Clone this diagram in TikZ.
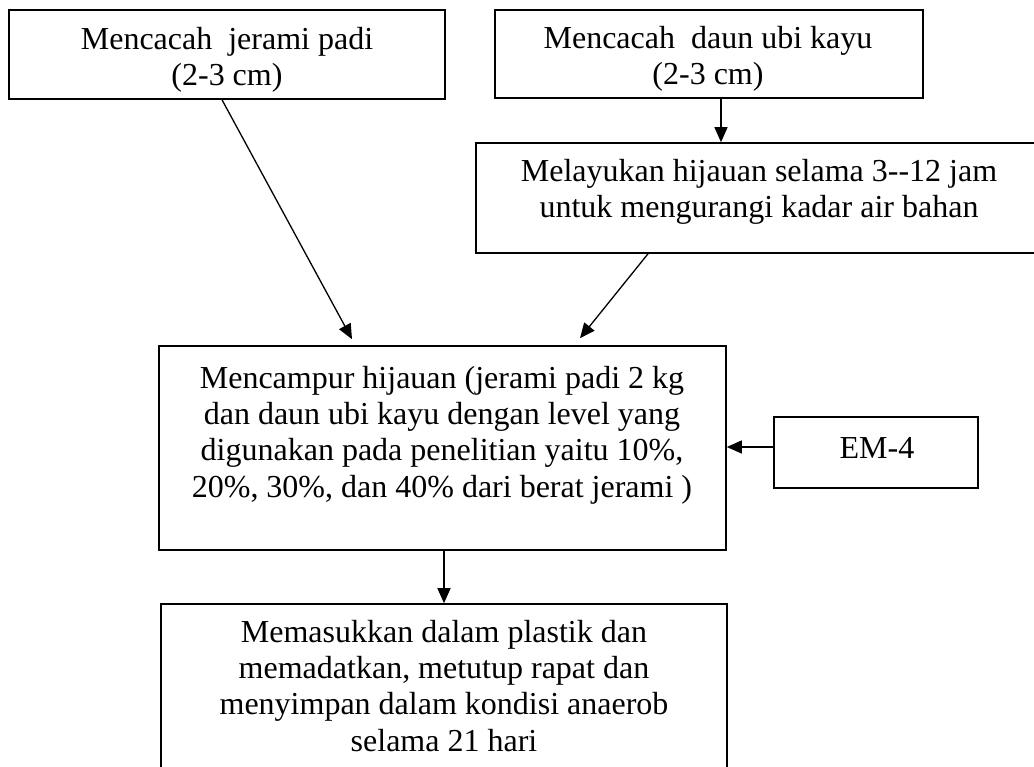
\documentclass[tikz,border=0pt]{standalone}
\usepackage{fontspec}
\setmainfont{Liberation Serif}
\usetikzlibrary{arrows.meta}
\tikzset{
  boxnode/.style={draw=black, line width=1.6pt, rectangle, inner sep=0pt},
  txt/.style={align=center, inner sep=0pt, anchor=base, font=\fontsize{32}{36.3}\selectfont},
  arr/.style={line width=1.3pt, -{Triangle[length=15pt,width=13pt]}}
}
\begin{document}
\begin{tikzpicture}[x=1pt,y=-1pt]
\useasboundingbox (0,0) rectangle (1034,767);
\fill[white] (0,0) rectangle (1034,767);
\clip (0,0) rectangle (1034,767);

% boxes
\node[boxnode, minimum width=436pt, minimum height=89pt] (b1) at (227,54.5) {};
\node[boxnode, minimum width=428pt, minimum height=88pt] (b2) at (709,54) {};
\node[boxnode, minimum width=564pt, minimum height=110pt] (b3) at (758,198) {};
\node[boxnode, minimum width=567pt, minimum height=204pt] (b4) at (442.5,448) {};
\node[boxnode, minimum width=204pt, minimum height=71pt] (b5) at (876,452.5) {};
\node[boxnode, minimum width=566pt, minimum height=176pt] (b6) at (444,692) {};

% texts
\node[txt] (t1) at (227,86) {Mencacah~ jerami padi\\(2-3 cm)};
\node[txt] (t2) at (708,85) {Mencacah~ daun ubi kayu\\(2-3 cm)};
\node[txt] (t3) at (759,218) {Melayukan hijauan selama 3-{}-12 jam\\untuk mengurangi kadar air bahan};
\node[txt] (t4) at (442,497) {Mencampur hijauan (jerami padi 2 kg\\dan daun ubi kayu dengan level yang\\digunakan pada penelitian yaitu 10\%,\\20\%, 30\%, dan 40\% dari berat jerami )};
\node[txt] (t5) at (877,458) {EM-4};
\node[txt] (t6) at (444,751) {Memasukkan dalam plastik dan\\memadatkan, metutup rapat dan\\menyimpan dalam kondisi anaerob\\selama 21 hari};

% connectors
\draw[arr] ([xshift=-5pt]b1.south) -- ([xshift=-90.5pt,yshift=6pt]b4.north);
\draw[arr] ([xshift=12pt]b2.south) -- ([xshift=12pt]b2.south |- b3.north);
\draw[arr] ([xshift=-110pt]b3.south) -- ([xshift=137.5pt,yshift=7pt]b4.north);
\draw[arr] ([yshift=5.5pt]b5.west) -- ([yshift=5.5pt]b5.west -| b4.east);
\draw[arr] ([xshift=1.5pt]b4.south) -- ([xshift=1.5pt]b4.south |- b6.north);
\end{tikzpicture}
\end{document}
